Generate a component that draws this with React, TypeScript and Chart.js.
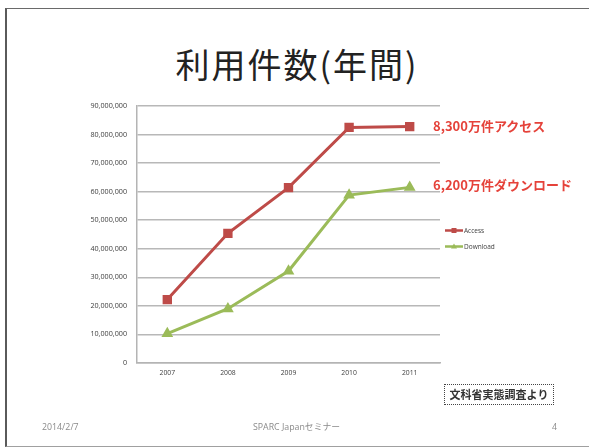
import React, { useEffect, useRef } from "react";
import { Chart, registerables } from "chart.js";

Chart.register(...registerables);

const years = ["2007", "2008", "2009", "2010", "2011"];
const accessValues = [22200000, 45400000, 61400000, 82500000, 82800000];
const downloadValues = [10300000, 19000000, 32200000, 58800000, 61500000];
const seriesNames = ["Access", "Download"];
const seriesColors = ["#be4b48", "#9bbb59"];
const yMax = 90000000;
const yStep = 10000000;

const sideLegend = {
  id: "sideLegend",
  afterDraw(chart: any) {
    const { ctx, chartArea } = chart;
    const x0 = chartArea.right + 5;
    const yMid = (chartArea.top + chartArea.bottom) / 2;
    chart.data.datasets.forEach((ds: any, i: number) => {
      const y = yMid - 4 + i * 16;
      ctx.save();
      ctx.strokeStyle = ds.borderColor;
      ctx.lineWidth = 2.5;
      ctx.beginPath();
      ctx.moveTo(x0, y);
      ctx.lineTo(x0 + 18, y);
      ctx.stroke();
      ctx.fillStyle = ds.borderColor;
      const cx = x0 + 9;
      if (ds.pointStyle === "rect") {
        ctx.fillRect(cx - 2.5, y - 2.5, 5, 5);
      } else {
        ctx.beginPath();
        ctx.moveTo(cx, y - 3);
        ctx.lineTo(cx + 3, y + 2);
        ctx.lineTo(cx - 3, y + 2);
        ctx.closePath();
        ctx.fill();
      }
      ctx.fillStyle = "#404040";
      ctx.font = "6.5px 'Open Sans'";
      ctx.textBaseline = "middle";
      ctx.textAlign = "left";
      ctx.fillText(ds.label, x0 + 19, y + 0.5);
      ctx.restore();
    });
  },
};

function ChartCanvas() {
  const ref = useRef<HTMLCanvasElement>(null);
  useEffect(() => {
    if (!ref.current) return;
    const chart = new Chart(ref.current, {
      type: "line",
      data: {
        labels: years,
        datasets: [
          {
            label: seriesNames[0],
            data: accessValues,
            borderColor: seriesColors[0],
            backgroundColor: seriesColors[0],
            pointBackgroundColor: seriesColors[0],
            pointBorderColor: seriesColors[0],
            pointStyle: "rect",
            pointRadius: 4.5,
            borderWidth: 3,
            tension: 0,
          },
          {
            label: seriesNames[1],
            data: downloadValues,
            borderColor: seriesColors[1],
            backgroundColor: seriesColors[1],
            pointBackgroundColor: seriesColors[1],
            pointBorderColor: seriesColors[1],
            pointStyle: "triangle",
            pointRadius: 3.8,
            borderWidth: 3,
            tension: 0,
          },
        ],
      },
      options: {
        responsive: false,
        animation: false,
        layout: { padding: { left: 60, right: 149, top: 106, bottom: 60 } },
        plugins: { legend: { display: false }, tooltip: { enabled: false } },
        scales: {
          x: {
            offset: true,
            grid: { display: false, drawTicks: false },
            border: { display: true, color: "#b4b4b4", width: 1.5 },
            ticks: {
              color: "#404040",
              font: { size: 6.8, family: "'Open Sans'" },
              padding: 6,
            },
            afterFit(scale: any) {
              scale.height = 25;
            },
          },
          y: {
            min: 0,
            max: yMax,
            grid: { color: "#b8b8b8", lineWidth: 1.5, drawTicks: false },
            border: { display: true, color: "#b4b4b4", width: 1.5 },
            ticks: {
              stepSize: yStep,
              color: "#404040",
              font: { size: 7.2, family: "'Open Sans'" },
              padding: 10,
              callback: (v: any) => Number(v).toLocaleString("en-US"),
            },
            afterFit(scale: any) {
              scale.width = 77;
            },
          },
        },
      },
      plugins: [sideLegend],
    });
    return () => chart.destroy();
  }, []);
  return (
    <canvas
      ref={ref}
      width={589}
      height={448}
      style={{ position: "absolute", left: 0, top: 0, width: 589, height: 448 }}
    />
  );
}

const jp = "'Noto Sans CJK JP', 'Noto Sans', sans-serif";

export default function App() {
  return (
    <div
      style={{
        position: "fixed",
        left: 0,
        top: 0,
        width: 589,
        height: 448,
        background: "#ffffff",
        overflow: "hidden",
        fontFamily: jp,
      }}
    >
      <div
        style={{
          position: "absolute",
          left: 5,
          top: 8,
          width: 640,
          height: 437,
          borderLeft: "2px solid #5a5a5a",
          borderTop: "1.5px solid #6a6a6a",
          borderBottom: "1.5px solid #a0a0a0",
        }}
      />
      <div
        style={{
          position: "absolute",
          left: 5,
          width: 584,
          top: 44,
          textAlign: "center",
          fontSize: 34,
          lineHeight: "40px",
          letterSpacing: 2,
          color: "#222222",
          whiteSpace: "nowrap",
        }}
      >
        利用件数(年間)
      </div>
      <ChartCanvas />
      <div
        style={{
          position: "absolute",
          left: 433,
          top: 118,
          fontSize: 13,
          lineHeight: "16px",
          fontWeight: 700,
          color: "#e5423a",
          whiteSpace: "nowrap",
        }}
      >
        8,300万件アクセス
      </div>
      <div
        style={{
          position: "absolute",
          left: 433,
          top: 177,
          fontSize: 13,
          lineHeight: "16px",
          fontWeight: 700,
          color: "#e5423a",
          whiteSpace: "nowrap",
        }}
      >
        6,200万件ダウンロード
      </div>
      <div
        style={{
          position: "absolute",
          left: 444,
          top: 384,
          width: 108,
          height: 19,
          border: "1.5px dotted #444",
          fontSize: 11,
          lineHeight: "19px",
          fontWeight: 700,
          color: "#333",
          textAlign: "center",
          whiteSpace: "nowrap",
        }}
      >
        文科省実態調査より
      </div>
      <div
        style={{
          position: "absolute",
          left: 42,
          top: 421,
          fontSize: 8.8,
          lineHeight: "12px",
          color: "#8a8a8a",
          fontFamily: "'Open Sans', sans-serif",
        }}
      >
        2014/2/7
      </div>
      <div
        style={{
          position: "absolute",
          left: 253,
          top: 421,
          fontSize: 8.8,
          lineHeight: "12px",
          color: "#8a8a8a",
          fontFamily: "'Open Sans', 'Noto Sans CJK JP', sans-serif",
          whiteSpace: "nowrap",
        }}
      >
        SPARC Japanセミナー
      </div>
      <div
        style={{
          position: "absolute",
          left: 552,
          top: 421,
          fontSize: 8.8,
          lineHeight: "12px",
          color: "#8a8a8a",
          fontFamily: "'Open Sans', sans-serif",
        }}
      >
        4
      </div>
    </div>
  );
}
